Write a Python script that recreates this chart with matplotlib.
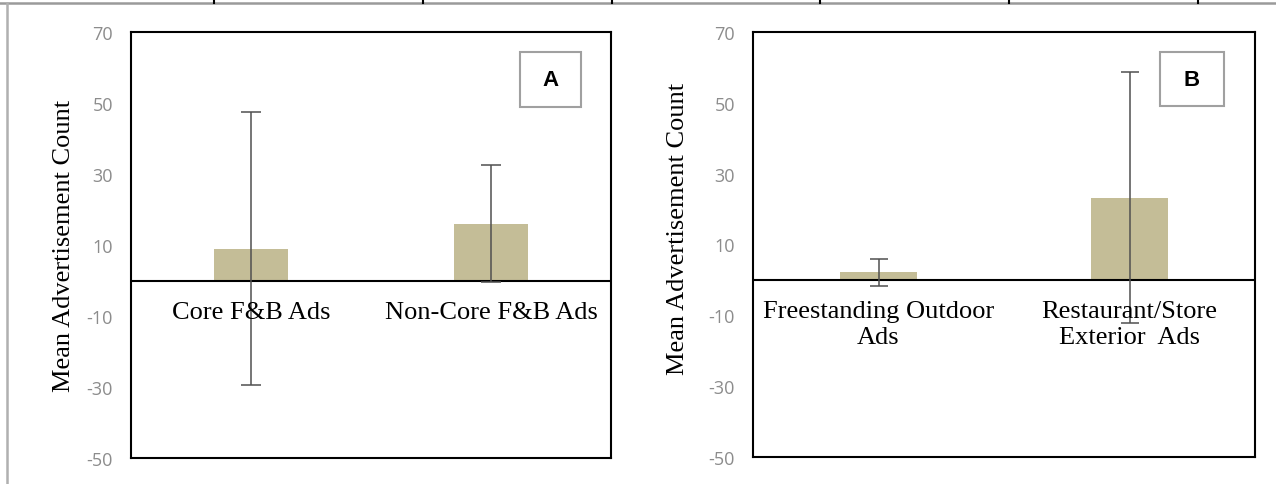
import matplotlib
matplotlib.use("Agg")
import matplotlib.pyplot as plt
from matplotlib.patches import Rectangle
from matplotlib.lines import Line2D

# panel A: ad type
cats_a = ["Core F&B Ads", "Non-Core F&B Ads"]
means_a = [9.0, 16.0]
err_a = [38.5, 16.5]

# panel B: ad location
cats_b = ["Freestanding Outdoor\nAds", "Restaurant/Store\nExterior  Ads"]
means_b = [2.1, 23.2]
err_b = [3.9, 35.4]

yticks = [-50, -30, -10, 10, 30, 50, 70]
panel_tags = ["A", "B"]

bar_color = "#C4BD97"
err_color = "#505050"
tick_color = "#8c8c8c"
serif = "Liberation Serif"

W, H = 1276, 485
fig = plt.figure(figsize=(W / 100, H / 100), dpi=100)

# axes boxes in pixels (left, top, right, bottom)
boxes = [(131, 33, 611, 459), (753, 33, 1255, 458)]
# y label anchor in axes fraction
label_xy = [(-0.117, 0.5), (-0.127, 0.54)]

panels = [(cats_a, means_a, err_a, 7), (cats_b, means_b, err_b, 6.5)]

for (l, t, r, b), (cats, means, errs, cap), tag, (lx, ly) in zip(boxes, panels, panel_tags, label_xy):
    ax = fig.add_axes([l / W, 1 - b / H, (r - l) / W, (b - t) / H])
    x = list(range(len(cats)))
    ax.bar(x, means, width=0.31, color=bar_color, zorder=2)
    ax.errorbar(x, means, yerr=errs, fmt="none", ecolor=err_color,
                elinewidth=1.1, capsize=cap, capthick=1.1, zorder=4)
    ax.axhline(0, color="black", lw=1.5, zorder=3)
    ax.set_xlim(-0.5, 1.5)
    ax.set_ylim(-50, 70)
    ax.set_yticks(yticks)
    ax.set_yticklabels([str(v) for v in yticks], color=tick_color,
                       fontsize=13, family="Open Sans")
    ax.tick_params(axis="y", length=0, pad=13)
    ax.set_xticks([])
    for s in ax.spines.values():
        s.set_linewidth(1.5)
        s.set_color("black")
    for xi, c in zip(x, cats):
        ax.text(xi, -5.8, c, ha="center", va="top", fontsize=19,
                family=serif, linespacing=1.2, zorder=5)
    ax.set_ylabel("Mean Advertisement Count", family=serif, fontsize=19)
    ax.yaxis.set_label_coords(lx, ly)
    # tag box
    ax.add_patch(Rectangle((0.81, 0.825), 0.128, 0.128, transform=ax.transAxes,
                           fill=False, edgecolor="#a0a0a0", lw=1.5, zorder=6))
    ax.text(0.874, 0.889, tag, transform=ax.transAxes, ha="center", va="center",
            fontsize=16, fontweight="bold", family="Liberation Sans", zorder=7)

# page decorations: table border at top and left margin line
fig.add_artist(Line2D([0, 1], [1 - 4 / H, 1 - 4 / H], color="#9a9a9a", lw=1.8))
fig.add_artist(Line2D([7 / W, 7 / W], [0, 1 - 4 / H], color="#b0b0b0", lw=1.8))
for xv in [214, 423, 612, 820, 1009, 1198]:
    fig.add_artist(Line2D([xv / W, xv / W], [1 - 4 / H, 1], color="black", lw=1.5))

fig.savefig("out.png", dpi=100)
